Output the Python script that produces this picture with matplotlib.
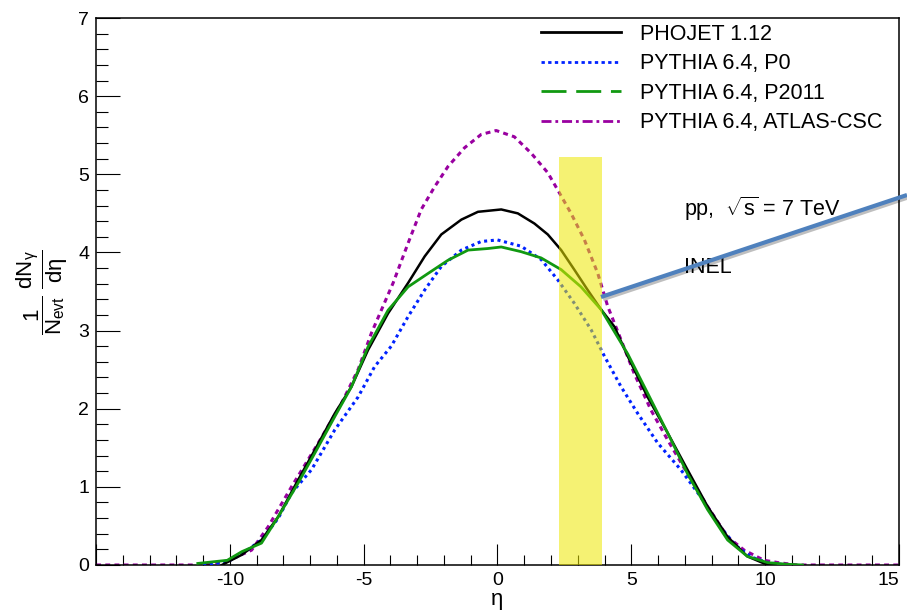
import matplotlib
matplotlib.use('Agg')
import matplotlib.pyplot as plt
import matplotlib.patheffects as pe
from matplotlib.lines import Line2D
from matplotlib.ticker import MultipleLocator, FuncFormatter

plt.rcParams['font.family'] = ['Liberation Sans', 'DejaVu Sans']
plt.rcParams['mathtext.fontset'] = 'custom'
plt.rcParams['mathtext.rm'] = 'Liberation Sans'
plt.rcParams['mathtext.it'] = 'Liberation Sans'
plt.rcParams['axes.unicode_minus'] = False

# eta values and dN/deta
eta_phojet = [-10.3, -9.56, -8.82, -8.19, -7.45, -6.83, -6.08, -5.46, -4.84, -4.09, -3.34,
              -2.72, -2.10, -1.35, -0.73, 0.14, 0.76, 1.38, 1.88, 2.38, 2.87, 3.37, 3.87,
              4.37, 4.87, 5.61, 6.36, 7.10, 7.85, 8.60, 9.34, 9.96, 10.4]
dn_phojet = [0.0, 0.13, 0.32, 0.62, 1.09, 1.47, 1.94, 2.28, 2.75, 3.22, 3.61,
             3.95, 4.23, 4.42, 4.52, 4.55, 4.50, 4.37, 4.23, 4.03, 3.78, 3.52, 3.27,
             3.05, 2.67, 2.15, 1.69, 1.22, 0.75, 0.36, 0.11, 0.02, 0.0]

eta_p0 = [-11.0, -10.1, -9.56, -8.82, -8.19, -7.70, -6.95, -6.08, -5.21, -4.59, -3.97,
          -3.34, -2.72, -2.10, -1.35, -0.61, 0.0, 0.88, 1.63, 2.25, 2.87, 3.50, 4.0,
          4.62, 5.24, 5.99, 6.85, 7.60, 8.30, 8.90, 9.50, 10.1, 10.8]
dn_p0 = [0.0, 0.04, 0.14, 0.32, 0.60, 0.92, 1.22, 1.73, 2.15, 2.54, 2.80,
         3.18, 3.52, 3.82, 4.03, 4.14, 4.16, 4.08, 3.91, 3.65, 3.35, 3.01, 2.67,
         2.28, 1.94, 1.56, 1.22, 0.87, 0.50, 0.25, 0.10, 0.03, 0.0]

eta_p2011 = [-11.2, -10.1, -9.56, -8.82, -8.19, -7.45, -6.83, -6.08, -5.46, -4.84, -4.09,
             -3.34, -2.60, -1.85, -1.10, -0.36, 0.14, 0.88, 1.63, 2.38, 3.12, 3.87,
             4.87, 5.61, 6.36, 7.10, 7.85, 8.60, 9.34, 10.1, 10.8, 11.4]
dn_p2011 = [0.02, 0.06, 0.17, 0.28, 0.62, 1.05, 1.43, 1.90, 2.28, 2.79, 3.26,
            3.56, 3.73, 3.90, 4.03, 4.05, 4.07, 4.01, 3.93, 3.78, 3.56, 3.27,
            2.70, 2.20, 1.69, 1.17, 0.71, 0.32, 0.11, 0.03, 0.01, 0.0]

eta_atlas = [-15.0, -11.1, -10.1, -9.19, -8.57, -7.70, -6.70, -5.83, -5.21, -4.71, -4.28,
             -3.90, -3.34, -2.85, -2.35, -1.85, -1.23, -0.61, -0.05, 0.63, 1.26, 1.88,
             2.25, 2.75, 3.25, 3.75, 4.12, 4.62, 5.11, 5.74, 6.36, 7.10, 7.85, 8.60,
             9.22, 9.96, 10.5, 11.2, 15.0]
dn_atlas = [0.0, 0.0, 0.05, 0.19, 0.49, 1.0, 1.56, 2.07, 2.50, 2.97, 3.31,
            3.61, 4.12, 4.55, 4.84, 5.10, 5.34, 5.51, 5.56, 5.48, 5.27, 5.02,
            4.80, 4.50, 4.16, 3.73, 3.31, 2.88, 2.45, 1.98, 1.60, 1.17, 0.75, 0.36,
            0.19, 0.06, 0.03, 0.0, 0.0]

labels = ['PHOJET 1.12', 'PYTHIA 6.4, P0', 'PYTHIA 6.4, P2011', 'PYTHIA 6.4, ATLAS-CSC']
band = (2.3, 3.9, 5.22)

fig = plt.figure(figsize=(9.07, 6.11), dpi=100)
ax = fig.add_axes([0.106, 0.0753, 0.885, 0.8952])

ax.plot(eta_atlas, dn_atlas, color='#9900a0', lw=2.2, ls=(0, (1.6, 1.4)), zorder=2)
ax.plot(eta_p0, dn_p0, color='#0022ff', lw=2.2, ls=(0, (1, 1.2)), zorder=3)
ax.plot(eta_phojet, dn_phojet, color='black', lw=1.8, zorder=4)
ax.plot(eta_p2011, dn_p2011, color='#119911', lw=2, zorder=5)

ax.fill_between([band[0], band[1]], 0, band[2], color='#ede800', alpha=0.55, lw=0, zorder=6)

ax.set_xlim(-15, 15)
ax.set_ylim(0, 7)
ax.xaxis.set_major_locator(MultipleLocator(5))
ax.xaxis.set_minor_locator(MultipleLocator(1))
ax.yaxis.set_major_locator(MultipleLocator(1))
ax.yaxis.set_minor_locator(MultipleLocator(0.2))
ax.xaxis.set_major_formatter(FuncFormatter(lambda v, p: '' if v <= -15 else '%d' % v))
ax.tick_params(axis='x', which='major', direction='in', length=15, width=0.8, labelsize=14, pad=5)
ax.tick_params(axis='x', which='minor', direction='in', length=7.5, width=0.8)
ax.tick_params(axis='y', which='major', direction='in', length=17, width=0.8, labelsize=14, pad=5)
ax.tick_params(axis='y', which='minor', direction='in', length=8.6, width=0.8)
for s in ax.spines.values():
    s.set_linewidth(1.1)

# keep the last x label inside the figure edge
fig.canvas.draw()
for t in ax.get_xticklabels():
    if t.get_text() == '15':
        t.set_horizontalalignment('right')

fig.text(497 / 907, 1 - 600 / 611, 'η', ha='center', va='center', fontsize=16)
fig.text(42 / 907, 1 - 292 / 611,
         r'$\dfrac{1}{\mathrm{N}_{\mathrm{evt}}}\ \dfrac{\mathrm{dN}_{\gamma}}{\mathrm{d}\eta}$',
         rotation=90, ha='center', va='center', fontsize=16)

handles = [
    Line2D([], [], color='black', lw=2),
    Line2D([], [], color='#0022ff', lw=2, ls=(0, (1.2, 1.2))),
    Line2D([], [], color='#119911', lw=2, ls=(0, (9, 3.5))),
    Line2D([], [], color='#9900a0', lw=2, ls=(0, (3.6, 1.4, 1, 1.4))),
]
ax.legend(handles, labels, loc='upper left', bbox_to_anchor=(532 / 907, 1 - 15 / 611),
          bbox_transform=fig.transFigure, frameon=False, fontsize=15.5,
          handlelength=3.75, handletextpad=0.85, labelspacing=0.4, borderaxespad=0)

ax.text(6.97, 4.46, r'pp,  $\sqrt{\mathrm{s}}$ = 7 TeV', fontsize=15.5, va='baseline', zorder=7)
ax.text(6.97, 3.74, 'INEL', fontsize=15.5, va='baseline', zorder=7)

arrow = Line2D([601 / 907, 1.0], [1 - 297 / 611, 1 - 195 / 611], transform=fig.transFigure,
               color='#4f81bd', lw=3, solid_capstyle='butt', zorder=10,
               path_effects=[pe.SimpleLineShadow(offset=(1.5, -1.5), alpha=0.25), pe.Normal()])
fig.add_artist(arrow)

fig.savefig('out.png', dpi=100)
